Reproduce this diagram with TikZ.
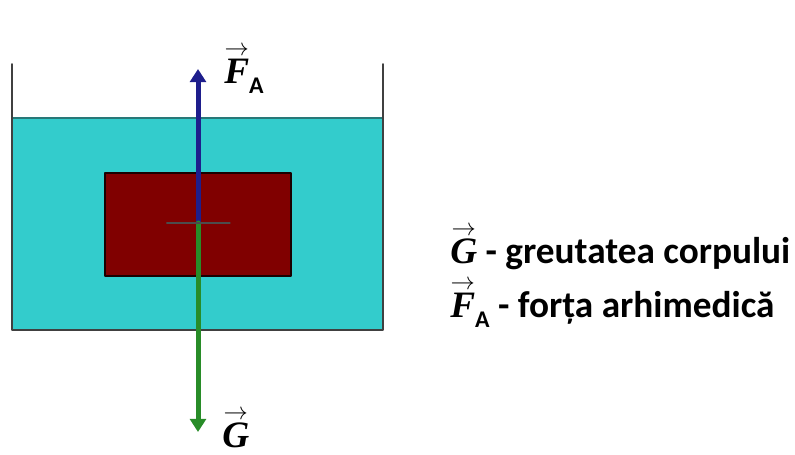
\documentclass[tikz,border=0pt]{standalone}
\usepackage{fontspec}
\setmainfont{Carlito}
\newfontfamily\vecfont{Liberation Serif}
\usetikzlibrary{arrows.meta}

\definecolor{water}{RGB}{51,204,204}
\definecolor{waterline}{RGB}{40,120,120}
\definecolor{body}{RGB}{128,0,0}
\definecolor{liftblue}{RGB}{30,30,140}
\definecolor{weightgreen}{RGB}{40,140,40}

% vector symbol and lowered index
\newcommand{\vsym}[1]{$\mathop{\hbox{\vecfont\bfseries\itshape #1}}\limits^{\scriptstyle\rightarrow}$}
\newcommand{\idx}[1]{\raisebox{-0.6ex}{\bfseries\fontsize{17}{20}\selectfont #1}}

\begin{document}
\begin{tikzpicture}[
  x=0.025cm, y=-0.025cm,
  line cap=round,
  line join=round,
  force/.style={line width=0.125cm, -{Triangle[length=0.33cm,width=0.4cm]}},
  every node/.style={font=\bfseries\fontsize{26.5}{32}\selectfont, inner sep=0pt}
]
  \useasboundingbox (0,0) rectangle (795,454);

  \coordinate (O) at (198,223);
  \coordinate (Ftop) at (198,69);
  \coordinate (Gbot) at (198,432);

  % Lichid
  \fill[water] (12,118) rectangle (383,330);
  \draw[waterline, line width=1.2pt] (12,118) -- (383,118);

  % Vas
  \draw[black!75, line width=1.3pt]
    (12,64) -- (12,330) -- (383,330) -- (383,64);

  % Corp
  \draw[fill=body, draw=black!80!body, line width=1.3pt]
    (105,173) rectangle (291,276);

  % Forte
  \draw[force, liftblue] (O) -- (Ftop);
  \draw[force, weightgreen] (O) -- (Gbot);
  \draw[black!70, line width=0.9pt] ([xshift=-0.78cm]O) -- ([xshift=0.8cm]O);

  % Etichete
  \node[anchor=base west] (lblF) at (224,83) {\vsym{F}\idx{A}};
  \node[anchor=base west] (lblG) at (222,447) {\vsym{G}};

  % Legenda
  \node[anchor=base west] (legG) at (450,263)
    {\vsym{G} - greutatea corpului};
  \node[anchor=base west] (legF) at (450,317)
    {\vsym{F}\idx{A} - forța arhimedică};
\end{tikzpicture}
\end{document}
